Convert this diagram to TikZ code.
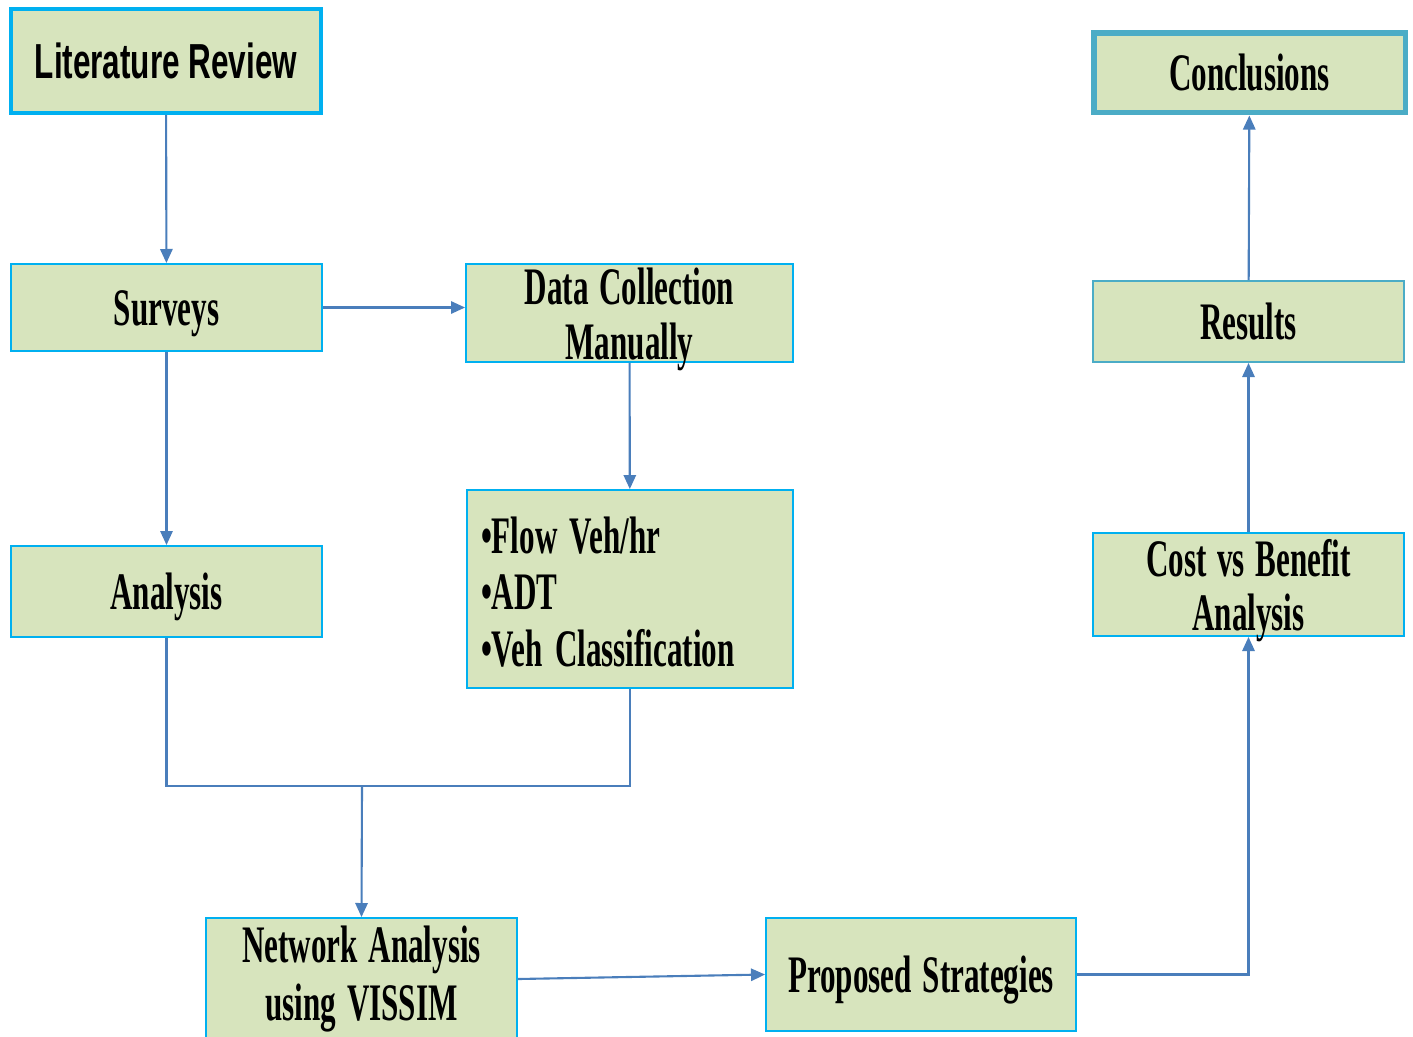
\documentclass[tikz,border=0pt]{standalone}
\usepackage{fontspec}
\setmainfont{Liberation Serif}
\newfontfamily\sansb{Liberation Sans}
\usetikzlibrary{arrows.meta}
\definecolor{boxfill}{HTML}{D7E4BD}
\definecolor{cyanb}{HTML}{00B0F0}
\definecolor{tealb}{HTML}{4BACC6}
\definecolor{arrowc}{HTML}{4A7EBB}
\newcommand\ctext[2][-4.5pt]{\raisebox{#1}[\dimexpr\height-10pt\relax][\dimexpr\depth-10pt\relax]{\scalebox{0.59}[1]{\fontsize{30}{31}\selectfont\bfseries\spaceskip=0.35em\begin{tabular}{@{}c@{}}#2\end{tabular}}}}
\newcommand\ltext[1]{\raisebox{-5.5pt}[\height][\depth]{\scalebox{0.59}[1]{\fontsize{30}{32}\selectfont\bfseries\spaceskip=0.4em\begin{tabular}{@{}l@{}}#1\end{tabular}}}}
\newcommand\stext[1]{\scalebox{0.64}[1]{\fontsize{28}{30}\selectfont\sansb\bfseries #1}}
\tikzset{
  box/.style={draw=cyanb, fill=boxfill, line width=1.1pt, inner sep=0pt, rectangle},
  thickbox/.style={box, line width=2.3pt},
  tealbox/.style={box, draw=tealb, line width=3.4pt},
  conn/.style={draw=arrowc, line width=1.2pt},
  arr/.style={conn, -{Triangle[width=7pt,length=8pt]}}
}
\begin{document}
\begin{tikzpicture}[x=0.02cm,y=-0.02cm]
\useasboundingbox (0,0) rectangle (1413,1036);
% boxes
\node[thickbox, minimum width=6.20cm, minimum height=2.08cm] (lit) at (166,61) {\stext{Literature Review}};
\node[box, minimum width=6.22cm, minimum height=1.74cm] (surveys) at (166.5,307.5) {\ctext{Surveys}};
\node[box, minimum width=6.54cm, minimum height=1.96cm] (data) at (629.5,313) {\ctext{Data Collection\\Manually}};
\node[box, minimum width=6.22cm, minimum height=1.82cm] (analysis) at (166.5,591.5) {\ctext{Analysis}};
\node[box, minimum width=6.52cm, minimum height=3.96cm, inner xsep=0.28cm, text width=5.96cm, align=left] (flow) at (630,589) {\ltext{\textbullet Flow Veh/hr\\\textbullet ADT\\\textbullet Veh Classification}};
\node[box, minimum width=6.22cm, minimum height=2.44cm] (network) at (361.5,979) {\ctext[-1pt]{Network Analysis\\[2pt]using VISSIM}};
\node[box, minimum width=6.20cm, minimum height=2.26cm] (proposed) at (921,974.5) {\ctext{Proposed Strategies}};
\node[box, minimum width=6.22cm, minimum height=2.06cm] (cost) at (1248.5,584.5) {\ctext{Cost vs Benefit\\Analysis}};
\node[box, draw=tealb, minimum width=6.22cm, minimum height=1.62cm] (results) at (1248.5,321.5) {\ctext{Results}};
\node[tealbox, minimum width=6.24cm, minimum height=1.60cm] (concl) at (1249.5,72.5) {\ctext{Conclusions}};
\coordinate (j) at (362,786);
% connectors
\draw[arr] (lit) -- (surveys);
\draw[arr] (surveys.east) -- (surveys.east -| data.west);
\draw[arr] (surveys) -- (analysis);
\draw[arr] (data) -- (flow);
\draw[conn] (analysis.south) |- (j);
\draw[conn] (flow.south) |- (j);
\draw[arr] (j) -- (network.north);
\draw[arr] (network.east) -- (proposed.west);
\draw[arr] (proposed.east) -| (cost.south);
\draw[arr] (cost) -- (results);
\draw[arr] (results) -- (concl);
\end{tikzpicture}
\end{document}
